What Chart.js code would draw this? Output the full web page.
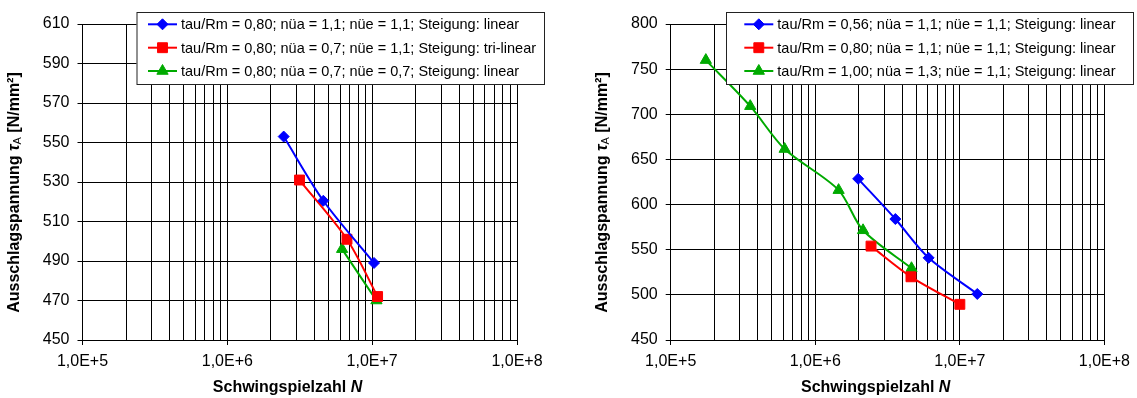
<!DOCTYPE html>
<html>
<head>
<meta charset="utf-8">
<script src="https://cdn.jsdelivr.net/npm/chart.js@4.4.4/dist/chart.umd.min.js"></script>
<style>
    body { margin: 0; background: #fff; width: 1137px; height: 398px; position: relative; overflow: hidden; }
    canvas { position: absolute; top: 0; }
</style>
</head>
<body>
<canvas id="leftChart" width="570" height="398" style="left:0"></canvas>
<canvas id="rightChart" width="567" height="398" style="left:570px"></canvas>
<script>
// Left chart data (N = cycles, S = stress amplitude in N/mm²)
const leftLabels = [
    'tau/Rm = 0,80; nüa = 1,1; nüe = 1,1; Steigung: linear',
    'tau/Rm = 0,80; nüa = 0,7; nüe = 1,1; Steigung: tri-linear',
    'tau/Rm = 0,80; nüa = 0,7; nüe = 0,7; Steigung: linear'
];
const leftBlueN = [2.45e6, 4.6e6, 1.03e7];
const leftBlueS = [553, 520.5, 489];
const leftRedN = [3.15e6, 6.7e6, 1.09e7];
const leftRedS = [531, 501, 472];
const leftGreenN = [6.2e6, 1.07e7];
const leftGreenS = [496, 470];
const leftYTicks = [450, 470, 490, 510, 530, 550, 570, 590, 610];

// Right chart data
const rightLabels = [
    'tau/Rm = 0,56; nüa = 1,1; nüe = 1,1; Steigung: linear',
    'tau/Rm = 0,80; nüa = 1,1; nüe = 1,1; Steigung: linear',
    'tau/Rm = 1,00; nüa = 1,3; nüe = 1,1; Steigung: linear'
];
const rightBlueN = [1.98e6, 3.58e6, 6.08e6, 1.32e7];
const rightBlueS = [628.5, 584, 541, 501];
const rightRedN = [2.43e6, 4.59e6, 1.0e7];
const rightRedS = [554, 520, 489.5];
const rightGreenN = [1.75e5, 3.55e5, 6.14e5, 1.45e6, 2.14e6, 4.63e6];
const rightGreenS = [760, 709, 661.5, 616, 571.5, 529.5];
const rightYTicks = [450, 500, 550, 600, 650, 700, 750, 800];

// x axis: log grid 1E+5 .. 1E+8 with 2..9 sub lines
const xDecades = [1e5, 1e6, 1e7];
const xSteps = [1, 2, 3, 4, 5, 6, 7, 8, 9];
const xTicks = [];
xDecades.forEach(d => xSteps.forEach(s => xTicks.push(s * d)));
xTicks.push(1e8);

const FONT = "'Liberation Sans', Arial, sans-serif";
const BLUE = '#0000FF', RED = '#FF0000', GREEN = '#00AA00';

const isMajor = v => Math.abs(Math.log10(v) - Math.round(Math.log10(v))) < 1e-6;

function pts(ns, ss) {
    return ns.map((n, i) => ({ x: n, y: ss[i] }));
}

function makeDataset(label, ns, ss, color, style, radius) {
    return {
        label,
        data: pts(ns, ss),
        borderColor: color,
        backgroundColor: color,
        borderWidth: 2,
        pointStyle: style,
        pointRadius: radius,
        pointHoverRadius: radius,
        pointBorderWidth: 1,
        tension: 0.3
    };
}

// Legend box drawn over the plot, like the original spreadsheet chart
const legendBox = {
    id: 'legendBox',
    afterDraw(chart, args, opts) {
        const ctx = chart.ctx;
        ctx.save();
        ctx.fillStyle = '#fff';
        ctx.fillRect(opts.left, opts.top, opts.right - opts.left, opts.bottom - opts.top);
        ctx.strokeStyle = '#222';
        ctx.lineWidth = 1;
        ctx.strokeRect(opts.left + 0.5, opts.top + 0.5, opts.right - opts.left, opts.bottom - opts.top);
        chart.data.datasets.forEach((ds, i) => {
            const y = opts.rows[i];
            ctx.strokeStyle = ds.borderColor;
            ctx.lineWidth = 2;
            ctx.beginPath();
            ctx.moveTo(opts.lineX0, y);
            ctx.lineTo(opts.lineX1, y);
            ctx.stroke();
            ctx.fillStyle = ds.backgroundColor;
            ctx.strokeStyle = ds.borderColor;
            ctx.lineWidth = 1;
            Chart.helpers.drawPoint(ctx, { pointStyle: ds.pointStyle, radius: ds.pointRadius, borderWidth: 1, rotation: 0 },
                (opts.lineX0 + opts.lineX1) / 2, y);
            ctx.fillStyle = '#000';
            ctx.font = '14.5px ' + FONT;
            ctx.textBaseline = 'middle';
            ctx.textAlign = 'left';
            ctx.fillText(ds.label, opts.textX, y + 1);
        });
        ctx.restore();
    }
};

// Axis titles with tau subscript and italic N
const axisTitles = {
    id: 'axisTitles',
    afterDraw(chart) {
        const ctx = chart.ctx;
        const area = chart.chartArea;
        ctx.save();
        ctx.fillStyle = '#000';
        ctx.textBaseline = 'alphabetic';
        ctx.textAlign = 'left';

        // x title
        const bold = 'bold 16px ' + FONT;
        const boldIt = 'italic bold 16px ' + FONT;
        ctx.font = bold;
        const w1 = ctx.measureText('Schwingspielzahl ').width;
        ctx.font = boldIt;
        const w2 = ctx.measureText('N').width;
        const cx = area.left + 205;
        let x = cx - (w1 + w2) / 2;
        ctx.font = bold;
        ctx.fillText('Schwingspielzahl ', x, 392);
        ctx.font = boldIt;
        ctx.fillText('N', x + w1, 392);

        // y title, rotated
        const parts = [
            { t: 'Ausschlagspannung ', f: bold, dy: 0 },
            { t: 'τ', f: boldIt, dy: 0 },
            { t: 'A', f: '11px ' + FONT, dy: 2 },
            { t: ' [N/mm²]', f: bold, dy: 0 }
        ];
        let total = 0;
        parts.forEach(p => { ctx.font = p.f; p.w = ctx.measureText(p.t).width; total += p.w; });
        ctx.translate(area.left - 63.5, 192.5);
        ctx.rotate(-Math.PI / 2);
        let px = -total / 2;
        parts.forEach(p => {
            ctx.font = p.f;
            ctx.fillText(p.t, px, p.dy);
            px += p.w;
        });
        ctx.restore();
    }
};

function makeChart(id, datasets, yTicks, yWidth, padRight, legend) {
    return new Chart(document.getElementById(id), {
        type: 'line',
        data: { datasets },
        options: {
            responsive: false,
            animation: false,
            layout: { padding: { top: 24, right: padRight, bottom: 0, left: 0 } },
            plugins: {
                legend: { display: false },
                tooltip: { enabled: false },
                legendBox: legend
            },
            scales: {
                x: {
                    type: 'logarithmic',
                    min: 1e5,
                    max: 1e8,
                    afterBuildTicks: s => { s.ticks = xTicks.map(v => ({ value: v, major: isMajor(v) })); },
                    afterFit: s => { s.height = 58; },
                    ticks: {
                        autoSkip: false,
                        maxRotation: 0,
                        minRotation: 0,
                        padding: 7,
                        color: '#000',
                        font: { size: 16, family: FONT },
                        callback: v => isMajor(v) ? '1,0E+' + Math.round(Math.log10(v)) : ''
                    },
                    grid: {
                        color: '#000',
                        lineWidth: 1,
                        tickLength: 5,
                        tickColor: c => (c.tick && isMajor(c.tick.value)) ? '#000' : 'rgba(0,0,0,0)'
                    },
                    border: { color: '#000', width: 1 }
                },
                y: {
                    min: yTicks[0],
                    max: yTicks[yTicks.length - 1],
                    afterBuildTicks: s => { s.ticks = yTicks.map(v => ({ value: v })); },
                    afterFit: s => { s.width = yWidth; },
                    ticks: {
                        padding: 8,
                        color: '#000',
                        font: { size: 16, family: FONT }
                    },
                    grid: { color: '#000', lineWidth: 1, tickLength: 5 },
                    border: { color: '#000', width: 1 }
                }
            }
        },
        plugins: [legendBox, axisTitles]
    });
}

makeChart('leftChart', [
    makeDataset(leftLabels[0], leftBlueN, leftBlueS, BLUE, 'rectRot', 5.5),
    makeDataset(leftLabels[1], leftRedN, leftRedS, RED, 'rect', 7),
    makeDataset(leftLabels[2], leftGreenN, leftGreenS, GREEN, 'triangle', 6.5)
], leftYTicks, 82.5, 53, {
    left: 136.5, top: 12, right: 544, bottom: 84,
    lineX0: 148, lineX1: 177, textX: 181, rows: [24.3, 47.7, 71]
});

makeChart('rightChart', [
    makeDataset(rightLabels[0], rightBlueN, rightBlueS, BLUE, 'rectRot', 5.5),
    makeDataset(rightLabels[1], rightRedN, rightRedS, RED, 'rect', 7),
    makeDataset(rightLabels[2], rightGreenN, rightGreenS, GREEN, 'triangle', 6.5)
], rightYTicks, 100.7, 31.3, {
    left: 156, top: 12, right: 563, bottom: 84,
    lineX0: 174.3, lineX1: 203.3, textX: 207.3, rows: [24.3, 47.7, 71]
});
</script>
</body>
</html>
